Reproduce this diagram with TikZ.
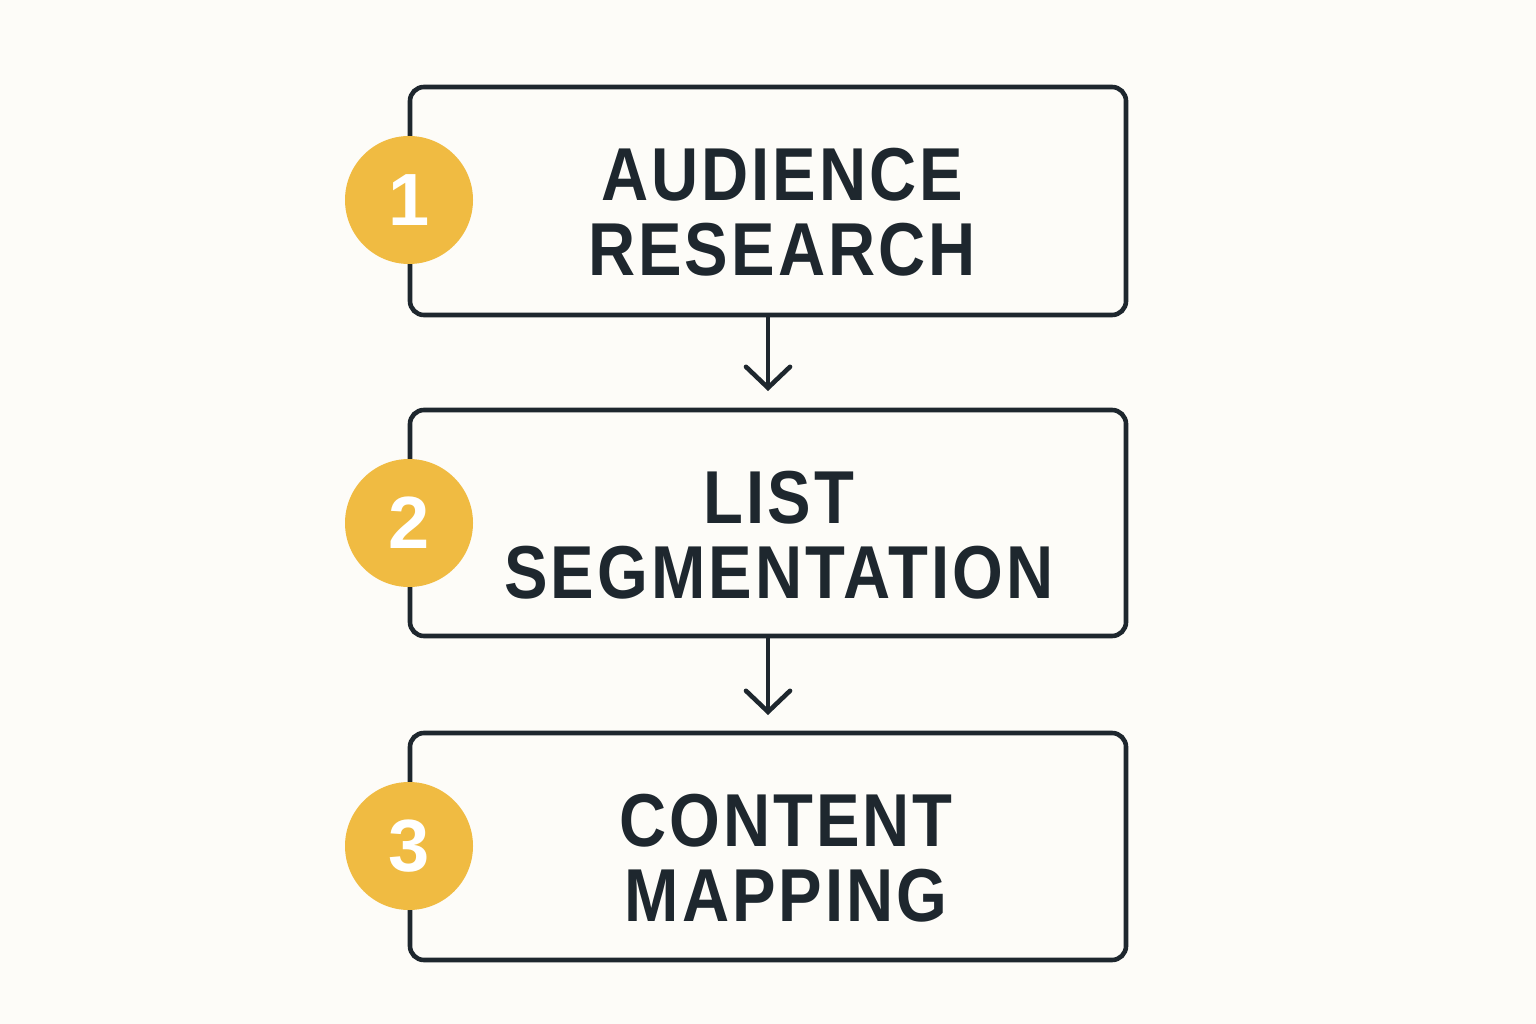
\documentclass[tikz,border=0pt]{standalone}
\usepackage{fontspec}
\setmainfont{Liberation Sans}
\newfontfamily\boxfont[FakeStretch=0.87,LetterSpace=4]{Liberation Sans}
\usetikzlibrary{arrows.meta}
\definecolor{bg}{HTML}{FDFCF8}
\definecolor{ink}{HTML}{1E272E}
\definecolor{gold}{HTML}{F0BB42}
\tikzset{
  stepbox/.style={draw=ink, line width=4.6pt, rounded corners=14pt, fill=bg},
  numdot/.style={circle, fill=gold, minimum size=128pt, inner sep=0pt, text=white, font=\fontsize{74}{74}\selectfont\bfseries},
  label/.style={text=ink, align=center, font=\boxfont\fontsize{75}{75}\selectfont\bfseries},
  flow/.style={draw=ink, line width=4.6pt, -{Straight Barb[length=21pt,width=44pt,line width=4.6pt,line cap=round]}}
}
\begin{document}
\begin{tikzpicture}[x=1pt,y=-1pt]
\fill[bg] (0,0) rectangle (1536,1024);
\useasboundingbox (0,0) rectangle (1536,1024);
% boxes
\draw[stepbox] (410,87) rectangle (1126,315);
\coordinate (b1t) at (768,87); \coordinate (b1b) at (768,315);
\draw[stepbox] (410,410) rectangle (1126,636);
\coordinate (b2t) at (768,410); \coordinate (b2b) at (768,636);
\draw[stepbox] (410,733) rectangle (1126,960);
\coordinate (b3t) at (768,733);
% arrows
\coordinate (a1) at (768,391);
\coordinate (a2) at (768,715);
\draw[flow] (b1b) -- (a1);
\draw[flow] (b2b) -- (a2);
% circles
\node[numdot] (n1) at (409,200) {1};
\node[numdot] (n2) at (409,523) {2};
\node[numdot] (n3) at (409,846) {3};
% labels
\node[label] (t1) at (782,212) {AUDIENCE\\RESEARCH};
\node[label] (t2) at (779,535) {LIST\\SEGMENTATION};
\node[label] (t3) at (786,858) {CONTENT\\MAPPING};
\end{tikzpicture}
\end{document}
